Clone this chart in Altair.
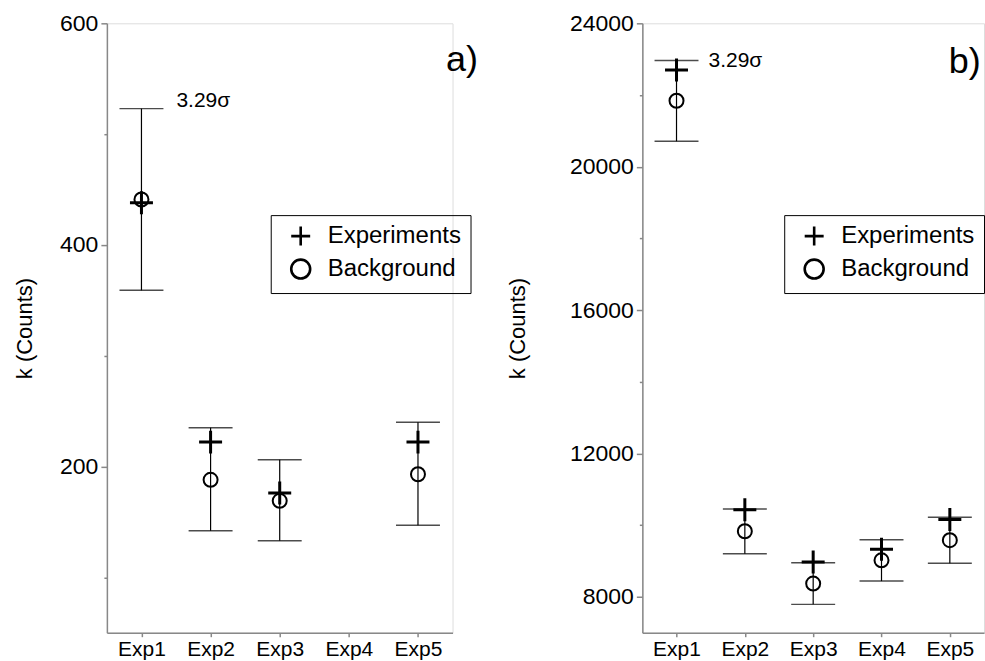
import altair as alt
import pandas as pd

# ---------------- data ----------------
exps = ["Exp1", "Exp2", "Exp3", "Exp4", "Exp5"]
series_names = ["Experiments", "Background"]

# panel a)
a_experiments = [438, 222, 176, None, 222]
a_background = [441, 188, 169, None, 193]
a_err_low = [359, 142, 133, None, 147]
a_err_high = [523, 235, 206, None, 240]

# panel b)
b_experiments = [22700, 10430, 8970, 9330, 10160]
b_background = [21840, 9830, 8370, 9020, 9580]
b_err_low = [20710, 9200, 7790, 8440, 8940]
b_err_high = [22960, 10450, 8950, 9590, 10220]

panel_labels = ["a)", "b)"]
sigma_label = "3.29\u03c3"
y_title = "k (Counts)"

FONT = "Liberation Sans"
CROSS = "M-1,0H1M0,-1V1"
H = 610


def panel(exp_vals, bg_vals, lo, hi, domain, tick_values, major, label,
          sigma_dx, sigma_dy, label_dx, label_dy, title_pad, width, legend_x):
    rows = []
    for e, v in zip(exps, exp_vals):
        if v is not None:
            rows.append({"exp": e, "series": series_names[0], "value": v})
    for e, v in zip(exps, bg_vals):
        if v is not None:
            rows.append({"exp": e, "series": series_names[1], "value": v})
    pts = pd.DataFrame(rows)
    bars = pd.DataFrame({"exp": exps, "lo": lo, "hi": hi}).dropna()
    sig = pd.DataFrame({"exp": [exps[0]], "value": [hi[0]], "label": [sigma_label]})
    plab = pd.DataFrame({"exp": [exps[-1]], "value": [domain[1]], "label": [label]})

    xaxis = alt.Axis(title=None, labelFont=FONT, labelFontSize=21, tickSize=4,
                     labelPadding=2, labelAngle=0, domainWidth=1.5, tickWidth=1.5)
    x = alt.X("exp:N", scale=alt.Scale(type="point", domain=exps, padding=0.5), axis=xaxis)
    yaxis = alt.Axis(title=y_title, values=tick_values, format="d",
                     labelExpr=f"datum.value % {major} == 0 ? datum.label : ''",
                     tickSize={"condition": {"test": f"datum.value % {major} == 0", "value": 6}, "value": 3},
                     labelFont=FONT, labelFontSize=23, labelPadding=3,
                     titleFont=FONT, titleFontSize=22, titleFontWeight="normal",
                     titlePadding=title_pad, grid=False, domainWidth=1.5, tickWidth=1.5)
    ysc = alt.Scale(domain=domain, nice=False, zero=False)

    legend = alt.Legend(title=None, orient="none", legendX=legend_x, legendY=192,
                        strokeColor="black", padding=9, labelFont=FONT,
                        labelFontSize=24, labelColor="black", symbolOffset=9,
                        labelOffset=15, rowPadding=3, symbolSize=360,
                        symbolStrokeWidth=2.6, symbolStrokeColor="black",
                        symbolFillColor="white")
    shape = alt.Shape("series:N", scale=alt.Scale(domain=series_names, range=[CROSS, "circle"]),
                      legend=legend)

    rule = alt.Chart(bars).mark_rule(color="black", strokeWidth=1.2).encode(
        x=x, y=alt.Y("lo:Q", scale=ysc, axis=yaxis), y2="hi:Q")
    caps = alt.Chart(bars).transform_fold(["lo", "hi"], as_=["k", "v"]).mark_tick(
        orient="horizontal", size=44, thickness=1.5, color="black").encode(
        x=x, y=alt.Y("v:Q", scale=ysc, axis=yaxis))
    bg_pts = alt.Chart(pts).transform_filter(
        alt.datum.series == series_names[1]
    ).mark_point(filled=False, color="black", opacity=1, size=196, strokeWidth=2).encode(
        x=x, y=alt.Y("value:Q", scale=ysc, axis=yaxis), shape=shape)
    ex_pts = alt.Chart(pts).transform_filter(
        alt.datum.series == series_names[0]
    ).mark_point(filled=False, color="black", opacity=1, size=529, strokeWidth=3).encode(
        x=x, y=alt.Y("value:Q", scale=ysc, axis=yaxis), shape=shape)
    sigma = alt.Chart(sig).mark_text(align="left", baseline="middle", font=FONT, fontSize=21,
                                     dx=sigma_dx, dy=sigma_dy, color="black").encode(
        x=x, y=alt.Y("value:Q", scale=ysc, axis=yaxis), text="label:N")
    ptext = alt.Chart(plab).mark_text(align="right", baseline="alphabetic", font=FONT, fontSize=36,
                                      dx=label_dx, dy=label_dy, color="black").encode(
        x=x, y=alt.Y("value:Q", scale=ysc, axis=yaxis), text="label:N")
    return alt.layer(rule, caps, bg_pts, ex_pts, sigma, ptext).properties(width=width, height=H)


left = panel(a_experiments, a_background, a_err_low, a_err_high, [50, 600],
             [100, 200, 300, 400, 500, 600], 200, panel_labels[0], 35, -8, 60, 48, 23, 346, 164)
right = panel(b_experiments, b_background, b_err_low, b_err_high, [7000, 24000],
              [8000, 10000, 12000, 14000, 16000, 18000, 20000, 22000, 24000], 4000,
              panel_labels[1], 32, 0, 31, 50, 40, 342, 142)

chart = alt.hconcat(left, right, spacing=190, bounds="flush").resolve_scale(
    shape="independent"
).resolve_legend(shape="independent").properties(
    padding={"left": 13, "top": 11, "right": 0, "bottom": 0}
).configure_view(stroke=None).configure_axis(
    domainColor="black", tickColor="black", labelColor="black", titleColor="black"
).configure(background="white")

chart.save("out.html", embed_options={"renderer": "svg", "actions": False})
